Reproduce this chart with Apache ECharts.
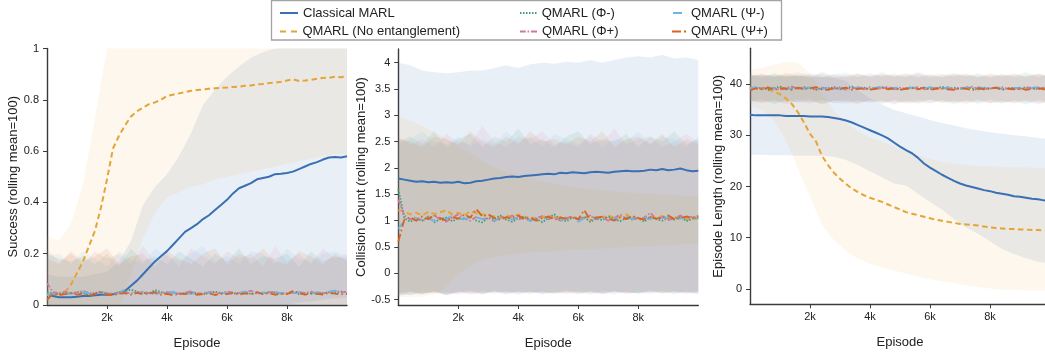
<!DOCTYPE html>
<html>
<head>
<meta charset="utf-8">
<script src="https://cdn.jsdelivr.net/npm/echarts@6/dist/echarts.min.js"></script>
<style>
  html, body { margin: 0; padding: 0; background: #ffffff; }
  #chart { width: 1045px; height: 358px; }
</style>
</head>
<body>
<div id="chart"></div>
<script>
// ---- Training curves: rolling means (51 points over 0..10k episodes) and std bands (26 points) ----
const EPISODE_MAX = 10000;
const seriesNames = ['Classical MARL', 'QMARL (No entanglement)', 'QMARL (Φ-)', 'QMARL (Φ+)', 'QMARL (Ψ-)', 'QMARL (Ψ+)'];
const xTicks = [2000, 4000, 6000, 8000];

// Success
const succClassical = [0.04,0.035,0.03,0.03,0.03,0.032,0.035,0.035,0.038,0.04,0.04,0.042,0.048,0.055,0.075,0.095,0.12,0.145,0.17,0.19,0.21,0.235,0.26,0.285,0.3,0.315,0.335,0.35,0.37,0.39,0.41,0.435,0.455,0.465,0.475,0.49,0.495,0.5,0.51,0.512,0.515,0.52,0.53,0.54,0.55,0.557,0.567,0.575,0.577,0.575,0.58];
const succNoEnt = [0.04,0.04,0.045,0.05,0.08,0.125,0.17,0.23,0.29,0.38,0.49,0.61,0.66,0.70,0.735,0.755,0.77,0.783,0.79,0.8,0.815,0.82,0.825,0.83,0.835,0.838,0.84,0.843,0.845,0.847,0.848,0.85,0.851,0.855,0.856,0.86,0.862,0.865,0.867,0.87,0.875,0.88,0.873,0.875,0.878,0.882,0.885,0.886,0.89,0.888,0.892];
const succPhiMinus = [0.05,0.045,0.042,0.048,0.044,0.05,0.046,0.041,0.047,0.052,0.045,0.043,0.05,0.055,0.06,0.052,0.047,0.045,0.058,0.05,0.044,0.048,0.042,0.046,0.05,0.045,0.041,0.048,0.052,0.047,0.05,0.044,0.046,0.049,0.043,0.047,0.045,0.05,0.048,0.044,0.046,0.051,0.042,0.047,0.045,0.049,0.046,0.05,0.048,0.052,0.05];
const succPhiPlus = [0.085,0.05,0.046,0.052,0.045,0.049,0.055,0.047,0.043,0.05,0.046,0.044,0.048,0.05,0.045,0.049,0.052,0.046,0.043,0.048,0.05,0.047,0.044,0.049,0.053,0.046,0.045,0.05,0.048,0.044,0.052,0.049,0.046,0.05,0.055,0.047,0.045,0.049,0.051,0.046,0.044,0.048,0.05,0.047,0.052,0.046,0.045,0.05,0.056,0.049,0.052];
const succPsiMinus = [0.04,0.042,0.05,0.045,0.043,0.048,0.052,0.045,0.05,0.046,0.044,0.049,0.045,0.062,0.05,0.047,0.045,0.05,0.046,0.044,0.048,0.051,0.045,0.047,0.043,0.049,0.05,0.046,0.044,0.048,0.045,0.05,0.047,0.052,0.046,0.044,0.049,0.047,0.05,0.046,0.048,0.045,0.05,0.047,0.044,0.049,0.05,0.052,0.055,0.053,0.05];
const succPsiPlus = [0.02,0.045,0.038,0.042,0.047,0.04,0.045,0.036,0.043,0.048,0.041,0.038,0.044,0.046,0.04,0.047,0.042,0.045,0.05,0.04,0.043,0.038,0.045,0.042,0.047,0.04,0.043,0.046,0.039,0.044,0.042,0.047,0.041,0.045,0.043,0.05,0.042,0.046,0.04,0.044,0.042,0.055,0.046,0.04,0.045,0.043,0.041,0.047,0.044,0.042,0.043];

const succClassicalUp = [0.12,0.11,0.11,0.11,0.12,0.13,0.17,0.25,0.39,0.46,0.51,0.58,0.67,0.78,0.84,0.89,0.93,0.965,0.985,1.0,1.03,1.05,1.07,1.09,1.1,1.12];
const succClassicalLow = [-0.04,-0.04,-0.05,-0.05,-0.05,-0.05,-0.06,-0.08,-0.1,-0.12,-0.12,-0.12,-0.1,-0.1,-0.08,-0.07,-0.05,-0.04,-0.02,-0.01,0.0,0.01,0.015,0.02,0.025,0.03];
const succNoEntUp = [0.27,0.25,0.32,0.47,0.73,1.0,1.12,1.15,1.16,1.17,1.17,1.18,1.18,1.18,1.19,1.19,1.19,1.2,1.2,1.2,1.2,1.2,1.21,1.21,1.21,1.22];
const succNoEntLow = [-0.18,-0.17,-0.15,-0.12,-0.12,-0.1,-0.02,0.12,0.26,0.36,0.42,0.44,0.46,0.47,0.49,0.5,0.51,0.52,0.53,0.54,0.55,0.56,0.57,0.58,0.59,0.59];
const succPhiMinusUp = [0.2,0.18,0.17,0.19,0.16,0.2,0.15,0.22,0.17,0.19,0.16,0.21,0.18,0.15,0.2,0.17,0.22,0.16,0.19,0.18,0.2,0.15,0.21,0.17,0.19,0.18];
const succPhiPlusUp = [0.22,0.17,0.2,0.16,0.21,0.18,0.2,0.16,0.23,0.17,0.2,0.15,0.22,0.19,0.16,0.21,0.18,0.2,0.15,0.23,0.17,0.2,0.16,0.22,0.18,0.2];
const succPsiMinusUp = [0.19,0.2,0.16,0.21,0.18,0.15,0.21,0.18,0.16,0.22,0.19,0.17,0.2,0.23,0.17,0.19,0.16,0.21,0.2,0.16,0.22,0.18,0.17,0.2,0.21,0.19];
const succPsiPlusUp = [0.18,0.16,0.21,0.17,0.19,0.22,0.16,0.19,0.2,0.15,0.21,0.18,0.16,0.2,0.22,0.16,0.2,0.18,0.22,0.17,0.16,0.21,0.19,0.16,0.2,0.17];
const succPhiMinusLow = [-0.09,-0.1,-0.08,-0.09,-0.1,-0.09,-0.08,-0.1,-0.09,-0.08,-0.1,-0.09,-0.09,-0.08,-0.1,-0.09,-0.08,-0.09,-0.1,-0.09,-0.08,-0.1,-0.09,-0.09,-0.08,-0.1];
const succPhiPlusLow = [-0.1,-0.08,-0.09,-0.1,-0.09,-0.08,-0.1,-0.09,-0.08,-0.1,-0.09,-0.08,-0.1,-0.09,-0.09,-0.1,-0.08,-0.09,-0.08,-0.1,-0.09,-0.08,-0.1,-0.09,-0.1,-0.08];
const succPsiMinusLow = [-0.08,-0.09,-0.1,-0.08,-0.09,-0.1,-0.09,-0.08,-0.1,-0.09,-0.08,-0.1,-0.09,-0.1,-0.08,-0.09,-0.1,-0.08,-0.09,-0.09,-0.1,-0.08,-0.09,-0.1,-0.09,-0.08];
const succPsiPlusLow = [-0.1,-0.09,-0.08,-0.1,-0.08,-0.09,-0.1,-0.09,-0.1,-0.08,-0.09,-0.1,-0.08,-0.09,-0.1,-0.08,-0.09,-0.1,-0.09,-0.08,-0.1,-0.09,-0.08,-0.09,-0.1,-0.09];

// Collision count
const collClassical = [1.8,1.78,1.76,1.74,1.75,1.73,1.74,1.72,1.73,1.72,1.74,1.71,1.72,1.75,1.76,1.78,1.8,1.81,1.83,1.84,1.83,1.85,1.86,1.87,1.88,1.89,1.88,1.91,1.9,1.92,1.91,1.9,1.92,1.93,1.92,1.91,1.93,1.94,1.95,1.94,1.94,1.95,1.97,1.96,1.98,1.96,1.97,1.99,1.96,1.94,1.95];
const collNoEnt = [1.2,1.18,1.12,1.15,1.1,1.17,1.13,1.16,1.2,1.12,1.15,1.1,1.18,1.14,1.12,1.1,1.08,1.05,1.1,1.07,1.12,1.05,1.08,1.03,1.06,1.1,1.04,1.07,1.05,1.09,1.03,1.06,1.08,1.04,1.07,1.1,1.05,1.08,1.12,1.04,1.06,1.03,1.07,1.05,1.09,1.04,1.06,1.08,1.03,1.02,1.05];
const collPhiMinus = [1.6,1.05,0.98,1.04,1.0,1.08,0.97,1.03,1.06,0.99,1.05,1.02,1.08,1.0,0.97,1.06,1.03,1.1,1.02,0.98,1.05,1.08,1.0,1.04,0.97,1.05,1.12,1.02,0.99,1.06,1.03,1.07,0.98,1.04,1.01,1.08,1.03,0.99,1.06,1.02,1.05,0.98,1.07,1.03,1.0,1.05,1.02,1.08,0.99,1.04,1.06];
const collPhiPlus = [1.4,1.1,1.03,1.07,1.0,1.05,1.1,1.02,0.98,1.06,1.12,1.04,1.0,1.07,1.03,1.05,0.99,1.08,1.04,1.1,1.02,1.06,1.0,1.05,1.09,1.03,1.07,1.0,1.04,1.08,1.02,1.05,1.1,1.03,1.07,1.0,1.05,1.12,1.04,1.08,1.02,1.06,1.15,1.03,1.07,1.01,1.05,1.1,1.04,1.08,1.06];
const collPsiMinus = [0.85,1.0,1.06,1.02,1.08,1.04,1.0,1.07,1.03,1.1,1.02,1.05,1.01,1.06,1.03,1.08,1.0,1.04,1.06,1.02,1.07,1.03,1.0,1.05,1.02,1.08,1.04,1.0,1.06,1.03,0.98,1.05,1.02,1.07,1.03,1.0,1.05,1.02,1.08,1.04,1.01,1.06,1.03,1.0,1.05,1.07,1.02,1.04,1.06,1.03,1.05];
const collPsiPlus = [0.6,1.02,1.06,1.0,1.08,1.03,1.1,1.05,1.0,1.07,1.04,1.12,1.06,1.22,1.08,1.12,1.05,1.02,1.07,1.04,1.1,1.03,1.06,1.0,1.05,1.08,1.02,1.06,1.04,1.07,1.03,1.2,1.01,1.06,1.08,1.04,1.0,1.06,1.03,1.09,1.05,1.02,1.07,1.04,1.06,1.1,1.03,1.05,1.08,1.06,1.09];

const collClassicalUp = [4.0,3.95,3.85,3.82,3.8,3.82,3.85,3.85,3.9,3.95,3.9,3.97,4.0,3.98,4.02,4.0,4.05,4.0,4.05,4.1,4.12,4.1,4.15,4.08,4.1,4.05];
const collClassicalLow = [-0.42,-0.4,-0.38,-0.36,-0.4,-0.37,-0.35,-0.38,-0.36,-0.34,-0.37,-0.35,-0.38,-0.36,-0.33,-0.37,-0.35,-0.38,-0.34,-0.36,-0.38,-0.35,-0.37,-0.34,-0.36,-0.38];
const collNoEntUp = [2.98,2.9,2.8,2.68,2.55,2.42,2.28,2.14,2.01,1.93,1.86,1.8,1.75,1.7,1.66,1.63,1.6,1.58,1.56,1.54,1.52,1.51,1.5,1.49,1.48,1.47];
const collNoEntLow = [-0.45,-0.45,-0.44,-0.4,-0.25,-0.02,0.15,0.26,0.31,0.35,0.38,0.4,0.41,0.42,0.44,0.45,0.46,0.47,0.48,0.5,0.51,0.52,0.53,0.54,0.55,0.56];
const collPhiMinusUp = [2.5,2.6,2.45,2.7,2.4,2.55,2.65,2.4,2.6,2.5,2.75,2.45,2.55,2.4,2.6,2.7,2.45,2.55,2.5,2.65,2.4,2.6,2.5,2.7,2.45,2.55];
const collPhiPlusUp = [2.6,2.45,2.55,2.4,2.65,2.5,2.45,2.8,2.5,2.4,2.6,2.55,2.7,2.45,2.5,2.4,2.65,2.5,2.75,2.45,2.55,2.6,2.4,2.5,2.65,2.5];
const collPsiMinusUp = [2.45,2.55,2.7,2.5,2.45,2.6,2.4,2.55,2.45,2.7,2.5,2.6,2.4,2.65,2.55,2.45,2.6,2.4,2.55,2.5,2.7,2.45,2.6,2.55,2.4,2.6];
const collPsiPlusUp = [2.55,2.5,2.4,2.6,2.55,2.45,2.7,2.5,2.4,2.6,2.45,2.7,2.5,2.55,2.45,2.6,2.5,2.7,2.4,2.55,2.6,2.45,2.65,2.4,2.55,2.45];
const collPhiMinusLow = [-0.4,-0.35,-0.38,-0.33,-0.4,-0.36,-0.32,-0.38,-0.35,-0.4,-0.33,-0.37,-0.35,-0.39,-0.34,-0.36,-0.4,-0.33,-0.37,-0.35,-0.38,-0.32,-0.36,-0.39,-0.34,-0.37];
const collPhiPlusLow = [-0.36,-0.41,-0.34,-0.38,-0.35,-0.4,-0.37,-0.33,-0.39,-0.35,-0.38,-0.34,-0.4,-0.36,-0.38,-0.33,-0.37,-0.4,-0.35,-0.38,-0.34,-0.37,-0.33,-0.36,-0.39,-0.35];
const collPsiMinusLow = [-0.42,-0.37,-0.4,-0.35,-0.38,-0.33,-0.4,-0.36,-0.34,-0.38,-0.41,-0.35,-0.37,-0.34,-0.39,-0.36,-0.33,-0.38,-0.4,-0.35,-0.37,-0.39,-0.34,-0.38,-0.36,-0.4];
const collPsiPlusLow = [-0.38,-0.34,-0.39,-0.36,-0.42,-0.35,-0.38,-0.4,-0.33,-0.37,-0.35,-0.39,-0.34,-0.38,-0.36,-0.4,-0.35,-0.37,-0.33,-0.39,-0.36,-0.34,-0.38,-0.35,-0.37,-0.33];

// Episode length
const lenClassical = [34.0,33.9,33.9,33.9,33.9,33.9,33.8,33.8,33.8,33.8,33.7,33.7,33.7,33.6,33.4,33.2,32.9,32.5,32.0,31.5,31.0,30.5,30.0,29.4,28.6,27.8,27.1,26.5,25.6,24.5,23.7,23.0,22.3,21.7,21.1,20.6,20.2,19.9,19.6,19.3,19.1,18.8,18.6,18.4,18.1,18.0,17.8,17.6,17.5,17.3,17.2];
const lenNoEnt = [39.3,39.2,39.1,38.9,38.6,38.0,37.2,36.1,34.5,32.5,30.3,28.8,26.0,24.2,22.7,21.5,20.5,19.6,18.9,18.3,17.8,17.4,17.0,16.5,16.0,15.5,15.0,14.7,14.4,14.1,13.8,13.5,13.3,13.1,12.9,12.7,12.6,12.5,12.4,12.2,12.0,11.9,11.8,11.7,11.7,11.6,11.6,11.5,11.5,11.4,11.3];
const lenPhiMinus = [39.4,39.1,39.3,38.9,39.2,39.5,39.0,39.3,39.1,39.4,39.2,38.9,39.3,39.1,39.4,39.0,39.2,39.5,39.1,39.3,39.0,39.2,39.4,39.1,39.3,38.9,39.2,39.4,39.0,39.3,39.1,39.2,39.5,39.0,39.3,39.1,39.4,39.2,38.9,39.3,39.1,39.4,39.0,39.2,39.3,39.1,39.4,39.2,39.0,39.3,39.2];
const lenPhiPlus = [39.0,39.3,39.1,39.4,39.2,38.9,39.3,39.5,39.1,39.2,39.4,39.0,39.2,39.3,39.1,39.4,38.9,39.2,39.3,39.0,39.4,39.2,39.1,39.5,39.0,39.3,39.1,39.2,39.4,39.0,39.3,39.2,39.1,39.4,39.0,39.3,39.2,39.5,39.1,39.0,39.3,39.2,39.4,39.1,39.3,39.0,39.2,39.4,39.1,39.3,39.1];
const lenPsiMinus = [39.2,39.4,39.0,39.3,39.1,39.4,39.2,39.0,39.5,39.1,39.3,39.2,39.0,39.4,39.2,39.1,39.3,39.0,39.4,39.2,39.1,39.3,39.5,39.0,39.2,39.4,39.1,39.3,39.2,39.0,39.4,39.1,39.3,39.2,39.5,39.0,39.3,39.1,39.4,39.2,39.0,39.3,39.1,39.4,39.2,39.3,39.0,39.2,39.4,39.1,39.3];
const lenPsiPlus = [38.8,39.2,39.0,39.3,38.9,39.2,39.1,38.9,39.3,39.0,39.2,39.4,39.0,38.9,39.2,39.1,39.3,38.9,39.1,39.2,38.9,39.1,39.3,39.0,39.2,38.9,39.1,39.2,39.0,39.3,38.9,39.1,39.2,39.0,38.9,39.2,39.1,38.8,39.2,39.0,39.1,39.3,38.9,39.1,39.0,39.2,38.9,39.1,39.2,39.0,39.1];

const lenClassicalUp = [41.8,41.7,41.7,41.6,41.6,41.5,41.4,41.2,40.6,38.8,37.2,36.0,35.0,34.3,33.7,33.0,32.4,31.9,31.4,31.0,30.6,30.3,30.0,29.8,29.5,29.3];
const lenClassicalLow = [26.2,26.2,26.1,26.1,26.0,26.0,26.0,25.8,25.2,24.2,23.0,21.8,20.6,20.2,18.6,17.0,15.5,13.6,12.0,10.8,9.3,7.8,6.8,6.0,5.3,5.0];
const lenNoEntUp = [42.8,43.2,43.8,44.3,44.2,42.1,38.2,34.8,32.5,30.8,29.6,28.8,27.8,26.8,26.1,25.4,24.8,24.5,24.2,24.0,23.9,23.8,23.7,23.7,23.6,23.6];
const lenNoEntLow = [35.6,35.0,33.0,29.0,23.5,18.0,12.5,9.5,7.4,5.9,4.9,4.2,3.6,3.0,2.4,1.9,1.5,1.1,0.7,0.4,0.1,-0.1,-0.2,-0.3,-0.3,-0.3];
const lenPhiMinusUp = [41.8,41.3,42.2,41.5,41.9,41.2,42.4,41.6,41.3,42.0,41.5,42.3,41.4,41.8,42.1,41.3,41.7,42.2,41.5,41.9,41.3,42.0,41.6,42.3,41.4,41.8];
const lenPhiPlusUp = [41.5,42.1,41.4,41.9,42.3,41.6,41.2,42.0,41.7,41.4,42.2,41.5,41.9,41.3,42.4,41.6,41.4,41.9,42.1,41.3,41.8,41.5,42.2,41.4,41.9,41.6];
const lenPsiMinusUp = [42.0,41.6,41.9,41.3,41.7,42.2,41.5,41.9,42.3,41.4,41.8,41.6,42.1,41.5,41.7,42.0,41.3,41.8,41.6,42.2,41.5,41.9,41.3,41.7,42.1,41.5];
const lenPsiPlusUp = [41.6,41.9,41.4,42.2,41.5,41.8,42.0,41.3,41.7,42.1,41.4,41.9,41.6,42.2,41.3,41.8,42.0,41.5,41.9,41.4,42.1,41.6,41.8,41.5,42.0,41.7];
const lenPhiMinusLow = [36.6,37.0,36.2,36.8,36.4,37.1,36.0,36.7,36.9,36.3,36.8,36.1,36.9,36.5,36.2,37.0,36.6,36.1,36.8,36.4,37.0,36.3,36.7,36.0,36.9,36.5];
const lenPhiPlusLow = [36.9,36.3,36.8,36.1,36.6,36.4,37.0,36.2,36.5,36.9,36.3,36.7,36.0,36.8,36.4,36.2,36.9,36.5,36.1,36.7,36.3,36.8,36.2,36.6,36.0,36.7];
const lenPsiMinusLow = [36.3,36.7,36.1,36.9,36.5,36.2,36.8,36.4,36.0,36.7,36.5,36.9,36.2,36.6,37.0,36.3,36.7,36.4,36.8,36.1,36.6,36.2,36.9,36.5,36.3,36.8];
const lenPsiPlusLow = [36.8,36.4,36.9,36.3,37.0,36.6,36.2,36.8,36.5,36.1,36.9,36.4,36.7,36.2,36.6,36.9,36.3,36.8,36.4,37.0,36.2,36.6,36.4,36.9,36.5,36.2];

// ---- Styling ----
const FONT = "'Liberation Sans', Arial, Helvetica, sans-serif";
const INK = '#222222';
const AXIS = '#3a3a3a';
const lineColors = ['#3a70b2', '#e5a435', '#3f9f72', '#cc79a7', '#6cb6e6', '#d8641e'];
const lineDashes = ['solid', [5.5, 3.5], [1.5, 1.6], [5, 2, 1.5, 2], [8, 10], [8, 3, 1.5, 3]];
const lineWidths = [2, 2, 1.8, 1.8, 1.8, 1.8];
const bandAlpha = [0.11, 0.09, 0.1, 0.1, 0.1, 0.1];

function rgba(hex, a) {
  const n = parseInt(hex.slice(1), 16);
  return `rgba(${(n >> 16) & 255},${(n >> 8) & 255},${n & 255},${a})`;
}
// Pair each reading with its episode, spreading the readings evenly over 0..EPISODE_MAX.
function withEpisodes(values) {
  const step = EPISODE_MAX / (values.length - 1);
  return values.map((v, i) => [i * step, v]);
}

const panels = [
  {
    title: 'Success (rolling mean=100)', min: 0, max: 1, ticks: [0, 0.2, 0.4, 0.6, 0.8, 1],
    grid: { left: 47, top: 48.5, width: 300, height: 256.5 }, nameGap: 23,
    means: [succClassical, succNoEnt, succPhiMinus, succPhiPlus, succPsiMinus, succPsiPlus],
    upper: [succClassicalUp, succNoEntUp, succPhiMinusUp, succPhiPlusUp, succPsiMinusUp, succPsiPlusUp],
    lower: [succClassicalLow, succNoEntLow, succPhiMinusLow, succPhiPlusLow, succPsiMinusLow, succPsiPlusLow]
  },
  {
    title: 'Collision Count (rolling mean=100)', min: -0.6, max: 4.26, ticks: [-0.5, 0, 0.5, 1, 1.5, 2, 2.5, 3, 3.5, 4],
    grid: { left: 398.3, top: 49, width: 300, height: 256 }, nameGap: 24,
    means: [collClassical, collNoEnt, collPhiMinus, collPhiPlus, collPsiMinus, collPsiPlus],
    upper: [collClassicalUp, collNoEntUp, collPhiMinusUp, collPhiPlusUp, collPsiMinusUp, collPsiPlusUp],
    lower: [collClassicalLow, collNoEntLow, collPhiMinusLow, collPhiPlusLow, collPsiMinusLow, collPsiPlusLow]
  },
  {
    title: 'Episode Length (rolling mean=100)', min: -3, max: 47, ticks: [0, 10, 20, 30, 40],
    grid: { left: 750, top: 48.3, width: 300, height: 256 }, nameGap: 25.5,
    means: [lenClassical, lenNoEnt, lenPhiMinus, lenPhiPlus, lenPsiMinus, lenPsiPlus],
    upper: [lenClassicalUp, lenNoEntUp, lenPhiMinusUp, lenPhiPlusUp, lenPsiMinusUp, lenPsiPlusUp],
    lower: [lenClassicalLow, lenNoEntLow, lenPhiMinusLow, lenPhiPlusLow, lenPsiMinusLow, lenPsiPlusLow]
  }
];

const grids = [], xAxes = [], yAxes = [], series = [];

// One filled polygon per spread: upper edge left-to-right, lower edge back again.
function spreadSeries(gi, lo, up, fill) {
  const rows = withEpisodes(lo).map(([x, v], i) => [x, v, up[i]]);
  return {
    type: 'custom', xAxisIndex: gi, yAxisIndex: gi, silent: true, z: 1, clip: true,
    data: rows, encode: { x: 0, y: [1, 2] },
    renderItem: (params, api) => {
      if (params.dataIndex !== 0) return null;
      const top = rows.map(r => api.coord([r[0], r[2]]));
      const bottom = rows.slice().reverse().map(r => api.coord([r[0], r[1]]));
      return { type: 'polygon', shape: { points: top.concat(bottom) }, style: { fill, stroke: null } };
    }
  };
}

panels.forEach((p, gi) => {
  grids.push(Object.assign({ outerBoundsMode: 'none', containLabel: false }, p.grid));
  xAxes.push({
    gridIndex: gi, type: 'value', min: 0, max: EPISODE_MAX,
    name: 'Episode', nameLocation: 'middle', nameGap: 32,
    nameTextStyle: { fontFamily: FONT, fontSize: 13, color: INK },
    axisLine: { show: true, onZero: false, lineStyle: { color: AXIS, width: 1.4 } },
    axisTick: { show: true, length: 4, customValues: xTicks, lineStyle: { color: AXIS, width: 1 } },
    axisLabel: { customValues: xTicks, formatter: v => (v / 1000) + 'k', fontFamily: FONT, fontSize: 11, color: INK, margin: 7 },
    splitLine: { show: false }
  });
  yAxes.push({
    gridIndex: gi, type: 'value', min: p.min, max: p.max,
    name: p.title, nameLocation: 'middle', nameGap: p.nameGap,
    nameTextStyle: { fontFamily: FONT, fontSize: 13, color: INK },
    axisLine: { show: true, onZero: false, lineStyle: { color: AXIS, width: 1.4 } },
    axisTick: { show: true, length: 4, customValues: p.ticks, lineStyle: { color: AXIS, width: 1 } },
    axisLabel: { customValues: p.ticks, fontFamily: FONT, fontSize: 11, color: INK, margin: 8 },
    splitLine: { show: false }
  });

  for (let k = 0; k < 6; k++) {
    series.push(spreadSeries(gi, p.lower[k], p.upper[k], rgba(lineColors[k], bandAlpha[k])));
  }
  for (let k = 0; k < 6; k++) {
    series.push({
      type: 'line', name: seriesNames[k], xAxisIndex: gi, yAxisIndex: gi,
      data: withEpisodes(p.means[k]), symbol: 'none', clip: true, z: 3 + k,
      itemStyle: { color: lineColors[k] },
      lineStyle: { color: lineColors[k], width: lineWidths[k], type: lineDashes[k], cap: 'butt', join: 'round' }
    });
  }
});

// Legend swatches, drawn as small filled paths so dash patterns show.
function dashPath(segments) {
  return 'path://' + segments.map(([a, b]) => `M${a},0H${b}V2H${a}Z`).join(' ');
}
const dotted = [];
for (let x = 0; x < 17; x += 3) dotted.push([x, x + 1.5]);
const legendIcons = [
  dashPath([[0, 18]]),
  dashPath([[0, 6], [11, 17]]),
  dashPath(dotted),
  dashPath([[0, 6], [8, 9.5], [11.5, 18]]),
  dashPath([[0, 9]]),
  dashPath([[0, 9], [12, 14]])
];
const legendSlots = [
  { left: 280, top: 6.5, w: 18, pad: 0 },
  { left: 280, top: 25, w: 18, pad: 0 },
  { left: 520, top: 6.5, w: 17, pad: 0 },
  { left: 520, top: 25, w: 17, pad: 0 },
  { left: 673, top: 6.5, w: 9, pad: 4 },
  { left: 672, top: 25, w: 14, pad: 0 }
];
const legends = seriesNames.map((name, k) => ({
  data: [{ name, icon: legendIcons[k] }],
  left: legendSlots[k].left, top: legendSlots[k].top, padding: 0,
  itemWidth: legendSlots[k].w, itemHeight: 2, selectedMode: false, z: 10,
  textStyle: { fontFamily: FONT, fontSize: 13, color: INK, padding: [0, 0, 0, legendSlots[k].pad] }
}));

const chart = echarts.init(document.getElementById('chart'), null, { renderer: 'canvas' });
chart.setOption({
  animation: false,
  backgroundColor: '#ffffff',
  textStyle: { fontFamily: FONT },
  graphic: [{
    type: 'rect', z: 5, silent: true,
    shape: { x: 271.5, y: 0.5, width: 510, height: 39.5 },
    style: { fill: 'rgba(255,255,255,0.85)', stroke: '#a3a3a3', lineWidth: 1.3 }
  }],
  legend: legends,
  grid: grids,
  xAxis: xAxes,
  yAxis: yAxes,
  series
});
</script>
</body>
</html>
